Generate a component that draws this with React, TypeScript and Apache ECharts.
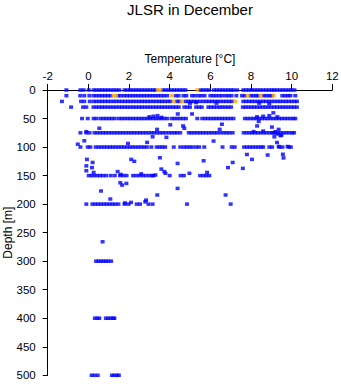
import React, { useEffect, useRef } from "react";
import * as echarts from "echarts";

const titleText = "JLSR in December";
const xName = "Temperature [°C]";
const yName = "Depth [m]";
const xMin = -2;
const xMax = 12;
const xStep = 2;
const yMin = 0;
const yMax = 500;
const yStep = 50;

// temperatures observed at standard depths
const depth0 = [-1.08,-0.39,-0.23,0.02,0.26,0.4,0.54,0.68,0.82,0.96,1.1,1.24,1.38,1.52,1.78,1.92,2.06,2.2,2.34,2.48,2.62,2.76,2.9,3.04,3.18,3.3,3.66,3.8,3.94,4.08,4.22,4.36,4.5,4.64,4.78,5.52,5.66,5.8,5.94,6.18,6.32,6.46,6.6,6.74,6.88,7.02,7.14,7.32,7.62,7.76,7.9,8.04,8.18,8.32,8.46,8.6,8.74,8.88,9.02,9.14,9.28,9.42,9.56,9.7,9.84,9.98,10.14];
const depth10 = [-1.08,-0.4,-0.2,0.05,0.26,0.4,0.54,0.68,0.82,0.96,1.1,1.46,1.6,1.76,1.9,2.04,2.18,2.32,2.46,2.6,2.74,2.88,3.02,3.16,3.3,3.44,3.58,3.72,3.88,4.3,4.44,4.68,4.82,5.1,5.24,5.42,5.56,5.72,6.0,6.14,6.28,6.44,6.58,6.76,6.9,7.04,7.28,7.56,7.7,7.98,8.12,8.26,8.36,8.62,8.76,8.9,9.02,9.54,9.68,9.82,9.94,10.18];
const depth20 = [-1.3,-0.36,-0.2,0.07,0.26,0.4,0.54,0.68,0.82,0.96,1.1,1.24,1.38,1.52,1.66,1.8,1.94,2.08,2.22,2.36,2.5,2.64,2.78,2.92,3.06,3.2,3.34,3.48,3.62,3.76,3.9,4.04,4.34,4.48,4.78,4.92,5.06,5.2,5.34,5.5,5.66,5.8,5.94,6.08,6.22,6.36,6.5,6.64,6.78,6.92,7.06,7.62,7.76,7.9,8.04,8.18,8.32,8.46,8.6,8.74,8.88,9.02,9.16,9.3,9.44,9.58,9.72,9.86,10.0,10.14,10.26];
const depth30 = [-0.85,-0.26,-0.1,0.25,0.39,0.53,0.67,0.81,0.95,1.09,1.23,1.37,1.51,1.65,1.79,1.93,2.07,2.21,2.35,2.49,2.63,2.77,2.91,3.05,3.19,3.33,3.47,3.61,3.75,3.89,4.03,4.17,4.31,4.45,4.72,4.86,5.0,5.3,5.44,5.58,5.9,6.04,6.18,6.32,6.46,6.6,6.74,6.88,7.02,7.6,7.74,7.88,8.02,8.16,8.3,8.44,8.58,8.72,8.86,9.0,9.14,9.28,9.42,9.56,9.7,9.84,9.98,10.12,10.26];
const depth50 = [-0.31,-0.03,0.26,0.4,0.6,0.74,0.88,1.02,1.16,1.3,1.5,1.64,1.78,1.92,2.06,2.2,2.34,2.48,2.62,2.76,2.9,3.04,3.18,3.32,3.46,3.6,3.74,3.88,4.1,4.24,4.38,4.52,4.66,4.8,5.36,5.6,5.74,5.88,6.02,6.16,6.3,6.44,6.58,6.72,6.86,7.0,7.14,7.7,7.84,7.98,8.12,8.26,8.4,8.54,8.68,8.82,8.96,9.1,9.24,9.38,9.52,9.66,9.8,9.94,10.08,10.18];
const depth75 = [-0.39,-0.1,0.06,0.3,0.44,0.58,0.72,0.86,1.0,1.14,1.28,1.42,1.56,1.7,1.84,1.98,2.12,2.26,2.4,2.54,2.68,2.82,2.96,3.1,3.24,3.38,3.52,3.66,3.8,3.96,4.1,4.24,4.36,4.52,4.94,5.08,5.22,5.36,5.5,5.64,5.78,5.92,6.06,6.2,6.33,6.5,6.66,6.8,6.94,7.1,7.64,7.78,7.92,8.06,8.2,8.34,8.48,8.62,8.76,8.9,9.04,9.18,9.32,9.46,9.6,9.74,9.88,10.02,10.12];
const depth100 = [-0.39,-0.03,0.1,0.36,0.5,0.64,0.78,0.92,1.06,1.2,1.34,1.48,1.62,1.76,1.9,2.04,2.18,2.32,2.46,2.6,2.74,2.88,3.1,3.36,3.5,3.64,3.78,4.2,4.52,4.7,4.84,4.98,5.12,5.3,5.45,5.7,6.6,7.05,7.2,7.66,7.8,7.94,8.08,8.22,8.36,8.5,8.6,8.9,9.04,9.4,9.55,9.86,9.96];
const depth150 = [0.02,0.16,0.3,0.44,0.58,0.72,0.88,1.1,1.3,1.56,1.72,1.88,2.2,2.36,2.52,2.68,2.84,3.0,3.14,3.2,4.0,4.54,4.7,5.5,5.66,5.8,5.95];
const depth200 = [-0.1,0.2,0.34,0.48,0.62,0.76,0.9,1.04,1.18,1.32,1.48,1.78,1.98,2.38,2.54,2.96,3.16,4.85,7.0];
const depth300 = [0.38,0.5,0.62,0.74,0.86,0.98,1.12];
const depth400 = [0.32,0.44,0.54,0.86,0.98,1.1,1.22,1.28];
const depth500 = [0.16,0.3,0.46,1.16,1.28,1.4,1.5];

const standardDepths = [0, 10, 20, 30, 50, 75, 100, 150, 200, 300, 400, 500];
const standardRows = [depth0, depth10, depth20, depth30, depth50, depth75, depth100, depth150, depth200, depth300, depth400, depth500];

// off-standard observations [temperature, depth]
const scatterObs: [number, number][] = [
  [-0.1,73],[0.54,67],[-0.2,89],[-0.52,95],[-0.07,121.6],[0.21,127],[-0.1,133],[0.18,136],[0.26,144.5],[-0.1,141.5],
  [1.44,143],[0.62,177],[1.08,191],[1.57,162.6],[1.66,166.7],[1.87,163.7],[2.11,121.6],[2.26,125],[1.95,93.6],[2.89,91.8],
  [3.16,82],[3.38,69],[3.84,83],[3.52,118.7],[3.59,138.6],[3.74,143],[3.79,146],[3.39,184],[2.84,193],[4.03,61],
  [4.39,128.7],[4.39,172.5],[4.66,63],[4.72,67],[4.97,146],[5.67,124],[5.84,144.5],[6.16,89.5],[6.46,69],[6.57,60],
  [6.75,184],[6.87,136],[7.1,127],[7.6,137.4],[7.8,113],[8.05,121.6],[8.3,63],[8.38,55],[8.82,114],[9.03,65],
  [9.15,82],[9.28,92],[9.36,99],[9.57,112.6],[9.6,119],[9.8,99],[8.13,73],[9.1,75],[9.5,79],[9.36,69],[0.7,266],
  [3.0,47],[3.2,46],[3.4,45],[3.6,48],[4.4,42],[5.1,42],[8.3,47],[8.6,46],[8.9,45],[9.1,40],[9.3,47],
  [1.6,148],[2.6,147],[3.3,149],[1.8,198],[2.1,197],[2.8,196],
  [5.0,23],[5.3,22],[6.3,23],[8.4,23],[8.9,24],[8.6,72],[9.2,73],[9.3,77],[9.45,80]
];

// flagged observations (orange)
const flaggedDepths = [0, 10, 20];
const flagged0 = [3.42, 3.54, 5.36];
const flagged10 = [1.24, 1.36, 4.12, 7.84, 8.47, 9.12];
const flagged20 = [4.2, 4.6, 7.23];
const flaggedRows = [flagged0, flagged10, flagged20];

const FONT = "'Liberation Sans', Arial, Helvetica, sans-serif";

export default function App() {
  const ref = useRef<HTMLDivElement>(null);
  useEffect(() => {
    if (!ref.current) return;
    const chart = echarts.init(ref.current, undefined, { renderer: "svg" });
    const blueData: [number, number][] = [];
    standardRows.forEach((row, i) => row.forEach((t) => blueData.push([t, standardDepths[i]])));
    scatterObs.forEach((p) => blueData.push(p));
    const orangeData: [number, number][] = [];
    flaggedRows.forEach((row, i) => row.forEach((t) => orangeData.push([t, flaggedDepths[i]])));

    chart.setOption({
      animation: false,
      backgroundColor: "#fff",
      textStyle: { fontFamily: FONT },
      graphic: [
        {
          type: "text",
          x: 190,
          y: 9,
          style: {
            text: titleText,
            fontSize: 15,
            fontFamily: FONT,
            fill: "#000",
            textAlign: "center",
            textVerticalAlign: "middle",
          },
        },
      ],
      grid: { left: 47.7, right: 8.7, top: 90, bottom: 8.7, containLabel: false, outerBoundsMode: "none" },
      xAxis: {
        type: "value",
        position: "top",
        min: xMin,
        max: xMax,
        interval: xStep,
        name: xName,
        nameLocation: "middle",
        nameGap: 24,
        nameTextStyle: { fontSize: 12, color: "#000", fontFamily: FONT },
        axisLine: { show: true, onZero: false, lineStyle: { color: "#000", width: 1 } },
        axisTick: { show: true, length: 6, lineStyle: { color: "#000" } },
        axisLabel: { fontSize: 11.5, color: "#000", margin: 8, fontFamily: FONT },
        splitLine: { show: false },
      },
      yAxis: {
        type: "value",
        inverse: true,
        min: yMin,
        max: yMax,
        interval: yStep,
        name: yName,
        nameLocation: "middle",
        nameGap: 34,
        nameRotate: 90,
        nameMoveOverlap: false,
        nameTextStyle: { fontSize: 12, color: "#000", fontFamily: FONT },
        axisLine: { show: true, onZero: false, lineStyle: { color: "#000", width: 1 } },
        axisTick: { show: true, length: 5, lineStyle: { color: "#000" } },
        axisLabel: { fontSize: 11.5, color: "#000", margin: 12, fontFamily: FONT },
        splitLine: { show: false },
      },
      series: [
        {
          type: "scatter",
          data: blueData,
          symbol: "rect",
          symbolSize: [4, 3.5],
          itemStyle: { color: "#0000FF" },
          silent: true,
          z: 2,
        },
        {
          type: "scatter",
          data: orangeData,
          symbol: "rect",
          symbolSize: [4, 3.5],
          itemStyle: { color: "#FFA500" },
          silent: true,
          z: 3,
        },
      ],
    });
    return () => chart.dispose();
  }, []);
  return (
    <div
      ref={ref}
      style={{ position: "fixed", left: 0, top: 0, width: 341, height: 384 }}
    />
  );
}
